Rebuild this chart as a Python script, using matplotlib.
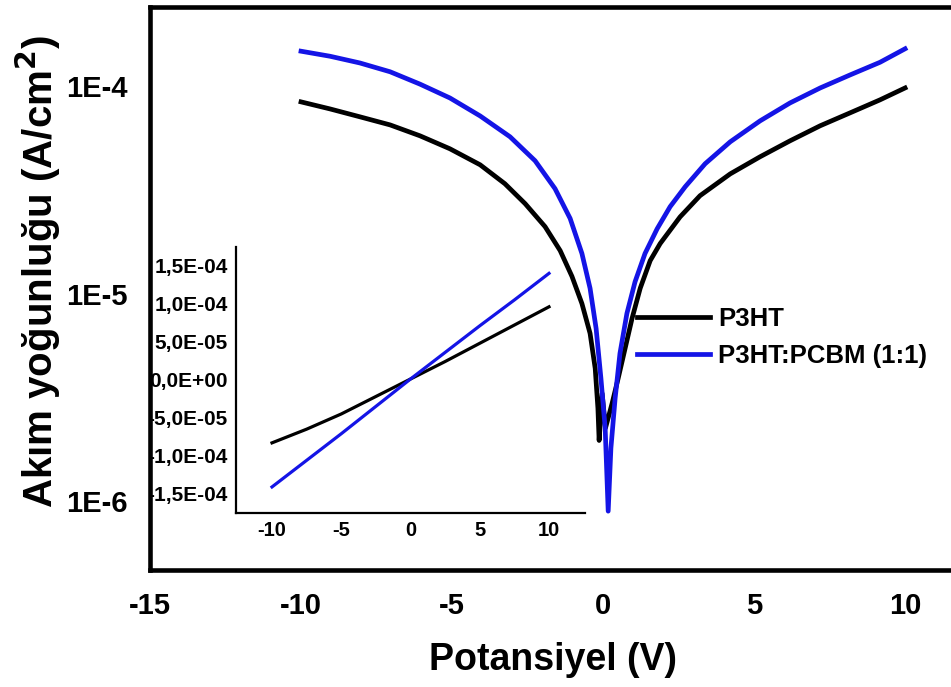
import matplotlib
matplotlib.use("Agg")
import matplotlib.pyplot as plt
from matplotlib.ticker import NullLocator
from matplotlib.lines import Line2D

plt.rcParams['font.family'] = ['Liberation Sans', 'DejaVu Sans']
plt.rcParams['font.weight'] = 'bold'

# ---- main (log) data: |J| vs V ----
v_p3ht = [-10.00, -9.04, -8.05, -7.05, -6.06, -5.07, -4.07, -3.25, -2.58, -1.92, -1.42, -1.03,
          -0.70, -0.43, -0.26, -0.17, -0.13, -0.03, 0.08, 0.30, 0.50, 0.73, 0.96, 1.23, 1.56,
          1.89, 2.55, 3.21, 4.21, 5.20, 6.19, 7.19, 8.18, 9.17, 10.0]
j_p3ht = [8.38e-5, 7.75e-5, 7.10e-5, 6.49e-5, 5.75e-5, 4.98e-5, 4.17e-5, 3.38e-5, 2.71e-5,
          2.10e-5, 1.61e-5, 1.21e-5, 8.95e-6, 6.43e-6, 4.36e-6, 2.80e-6, 1.96e-6, 3.30e-6,
          2.25e-6, 2.96e-6, 3.90e-6, 5.44e-6, 7.59e-6, 1.06e-5, 1.44e-5, 1.74e-5, 2.34e-5,
          2.96e-5, 3.77e-5, 4.56e-5, 5.44e-5, 6.43e-5, 7.42e-5, 8.57e-5, 9.78e-5]

v_blend = [-10.00, -9.04, -8.05, -7.05, -6.06, -5.07, -4.07, -3.08, -2.25, -1.59, -1.09, -0.70,
           -0.43, -0.23, -0.07, 0.07, 0.17, 0.26, 0.40, 0.56, 0.79, 1.06, 1.39, 1.79, 2.22,
           2.72, 3.38, 4.21, 5.20, 6.19, 7.19, 8.18, 9.17, 10.0]
j_blend = [1.47e-4, 1.39e-4, 1.29e-4, 1.17e-4, 1.02e-4, 8.75e-5, 7.17e-5, 5.69e-5, 4.36e-5,
           3.20e-5, 2.30e-5, 1.56e-5, 1.06e-5, 6.79e-6, 3.90e-6, 2.25e-6, 8.95e-7, 1.80e-6,
           3.13e-6, 5.15e-6, 8.02e-6, 1.14e-5, 1.56e-5, 2.05e-5, 2.62e-5, 3.27e-5, 4.22e-5,
           5.38e-5, 6.79e-5, 8.28e-5, 9.78e-5, 1.13e-4, 1.30e-4, 1.51e-4]

# ---- inset (linear) data: J vs V ----
vi = [-10, -7.5, -5, -2.5, 0, 2.5, 5, 7.5, 10]
ji_p3ht = [-8.4e-5, -6.6e-5, -4.6e-5, -2.3e-5, 0.0, 2.3e-5, 4.7e-5, 7.1e-5, 9.5e-5]
ji_blend = [-1.42e-4, -1.07e-4, -7.2e-5, -3.6e-5, 0.0, 3.5e-5, 7.0e-5, 1.04e-4, 1.39e-4]

main_xticks = [-15, -10, -5, 0, 5, 10]
main_yticks = [1e-4, 1e-5, 1e-6]
main_ylabels = ['1E-4', '1E-5', '1E-6']
inset_xticks = [-10, -5, 0, 5, 10]
inset_yticks = [1.5e-4, 1.0e-4, 5.0e-5, 0.0, -5.0e-5, -1.0e-4, -1.5e-4]
inset_ylabels = ['1,5E-04', '1,0E-04', '5,0E-05', '0,0E+00', '-5,0E-05', '-1,0E-04', '-1,5E-04']

BLUE = '#1414e6'
W, H = 951, 687
fig = plt.figure(figsize=(W / 100, H / 100), dpi=100, facecolor='white')

# main axes
ax = fig.add_axes([150 / W, 1 - 570 / H, 1 - 150 / W + 0.01, (570 - 7) / H])
ax.set_zorder(2)
ax.patch.set_visible(False)
ax.set_yscale('log')
ax.plot(v_p3ht, j_p3ht, color='black', lw=3.4)
ax.plot(v_blend, j_blend, color=BLUE, lw=3.4)
ax.set_xlim(-15, 11.52 + 0.01 * W / 30.2)
ax.set_ylim(4.66e-7, 2.4e-4)
ax.set_xticks(main_xticks)
ax.set_xticklabels([str(t) for t in main_xticks])
ax.set_yticks(main_yticks)
ax.set_yticklabels(main_ylabels)
ax.yaxis.set_minor_locator(NullLocator())
ax.tick_params(axis='both', length=0, labelsize=21)
ax.tick_params(axis='x', pad=16)
ax.tick_params(axis='y', pad=16)
for s in ['left', 'top', 'bottom']:
    ax.spines[s].set_linewidth(3.3)
ax.spines['right'].set_visible(False)

fig.text(553 / W, 1 - 660 / H, 'Potansiyel (V)', ha='center', va='center',
         fontsize=27, fontweight='bold')
fig.text(38 / W, 1 - 272 / H, 'Akım yoğunluğu (A/cm$^\\mathbf{2}$)', ha='center', va='center',
         rotation=90, fontsize=29, fontweight='bold')

handles = [Line2D([], [], color='black', lw=3.4), Line2D([], [], color=BLUE, lw=3.4)]
ax.legend(handles, ['P3HT', 'P3HT:PCBM (1:1)'], loc='upper left',
          bbox_to_anchor=(637 / W, 1 - 307 / H), bbox_transform=fig.transFigure,
          frameon=False, fontsize=18.5, handlelength=2.84, handletextpad=0.31,
          labelspacing=0.5, borderpad=0, borderaxespad=0)

# inset axes
ai = fig.add_axes([236 / W, 1 - 513 / H, (585 - 236) / W, (513 - 247) / H])
ai.set_zorder(1)
ai.plot(vi, ji_p3ht, color='black', lw=2.3)
ai.plot(vi, ji_blend, color=BLUE, lw=2.3)
ai.set_xlim(-12.6, 12.6)
ai.set_ylim(-1.763e-4, 1.737e-4)
ai.set_xticks(inset_xticks)
ai.set_xticklabels([str(t) for t in inset_xticks])
ai.set_yticks(inset_yticks)
ai.set_yticklabels(inset_ylabels)
ai.tick_params(axis='x', length=0, labelsize=14.5, pad=6)
ai.tick_params(axis='y', length=0, labelsize=15, pad=6)
for s in ['top', 'right']:
    ai.spines[s].set_visible(False)
for s in ['left', 'bottom']:
    ai.spines[s].set_linewidth(1.6)

fig.canvas.draw()
for lab in ai.get_yticklabels():
    lab.set_clip_box(ax.bbox)
    lab.set_clip_on(True)

fig.savefig('out.png', dpi=100, facecolor='white')
